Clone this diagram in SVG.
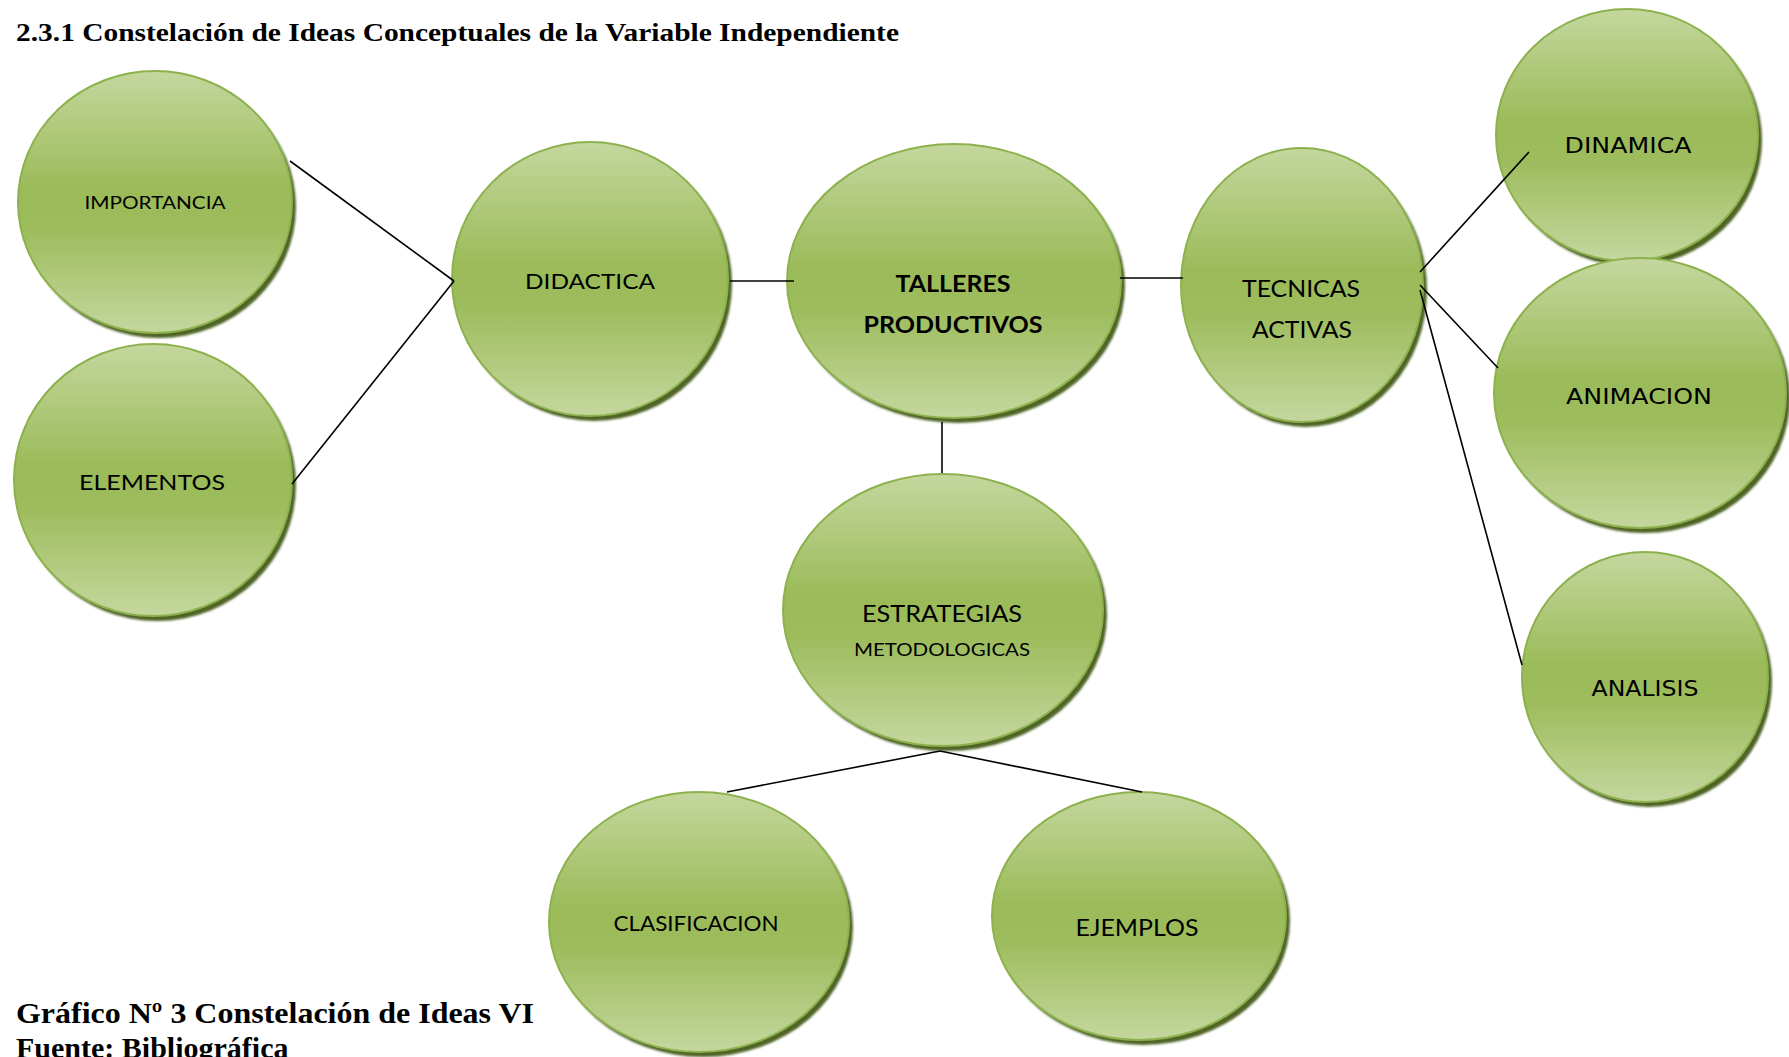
<svg xmlns="http://www.w3.org/2000/svg" width="1789" height="1057" viewBox="0 0 1789 1057">
<defs>
<linearGradient id="g" x1="0" y1="0" x2="0" y2="1">
<stop offset="0" stop-color="#c4d79e"/>
<stop offset="0.45" stop-color="#9bbb59"/>
<stop offset="0.6" stop-color="#9dbc5c"/>
<stop offset="1" stop-color="#c4d79e"/>
</linearGradient>
<filter id="blur" x="-10%" y="-10%" width="120%" height="120%"><feGaussianBlur stdDeviation="1"/></filter>
<style>
.sh{fill:#4f6528;filter:url(#blur)}
.el{fill:url(#g);stroke:#8db14d;stroke-width:2}
.t{font-family:"Lato","Open Sans",sans-serif;fill:#000;text-anchor:middle}
.w{font-family:"DejaVu Sans",sans-serif;fill:#000;text-anchor:middle}
.c line{stroke:#000;stroke-width:1.6}
.h{font-family:"Liberation Serif","Times New Roman",serif;font-weight:bold;fill:#000}
</style>
</defs>
<rect width="1789" height="1057" fill="#fff"/>
<text class="h" x="16" y="41" font-size="26" textLength="883" lengthAdjust="spacingAndGlyphs">2.3.1 Constelación de Ideas Conceptuales de la Variable Independiente</text>
<g id="importancia"><ellipse class="sh" cx="159" cy="207" rx="137" ry="131"/><ellipse class="el" cx="155" cy="202" rx="137" ry="131"/><text class="t" x="155" y="209" font-size="17" textLength="141" lengthAdjust="spacingAndGlyphs">IMPORTANCIA</text></g>
<g id="elementos"><ellipse class="sh" cx="157" cy="485" rx="139" ry="136"/><ellipse class="el" cx="153" cy="480" rx="139" ry="136"/><text class="t" x="152" y="490" font-size="22" textLength="146" lengthAdjust="spacingAndGlyphs">ELEMENTOS</text></g>
<g id="didactica"><ellipse class="sh" cx="594" cy="284" rx="138" ry="137"/><ellipse class="el" cx="590" cy="279" rx="138" ry="137"/><text class="t" x="590" y="289" font-size="22" textLength="130" lengthAdjust="spacingAndGlyphs">DIDACTICA</text></g>
<g id="talleres"><ellipse class="sh" cx="958" cy="286" rx="167" ry="137"/><ellipse class="el" cx="954" cy="281" rx="167" ry="137"/><text class="t" x="953" y="292" font-size="23" font-weight="bold" textLength="115" lengthAdjust="spacingAndGlyphs">TALLERES</text><text class="t" x="953" y="333" font-size="23" font-weight="bold" textLength="179" lengthAdjust="spacingAndGlyphs">PRODUCTIVOS</text></g>
<g id="tecnicas"><ellipse class="sh" cx="1306" cy="290" rx="121" ry="137"/><ellipse class="el" cx="1302" cy="285" rx="121" ry="137"/><text class="t" x="1301" y="297" font-size="23" textLength="118" lengthAdjust="spacingAndGlyphs">TECNICAS</text><text class="t" x="1302" y="338" font-size="23" textLength="100" lengthAdjust="spacingAndGlyphs">ACTIVAS</text></g>
<g id="dinamica"><ellipse class="sh" cx="1631" cy="140" rx="131" ry="126"/><ellipse class="el" cx="1627" cy="135" rx="131" ry="126"/><text class="w" x="1628" y="153" font-size="21" textLength="127" lengthAdjust="spacingAndGlyphs">DINAMICA</text></g>
<g id="animacion"><ellipse class="sh" cx="1644" cy="398" rx="146" ry="135"/><ellipse class="el" cx="1640" cy="393" rx="146" ry="135"/><text class="w" x="1639" y="404" font-size="21" textLength="146" lengthAdjust="spacingAndGlyphs">ANIMACION</text></g>
<g id="analisis"><ellipse class="sh" cx="1649" cy="682" rx="123" ry="125"/><ellipse class="el" cx="1645" cy="677" rx="123" ry="125"/><text class="w" x="1645" y="696" font-size="21" textLength="107" lengthAdjust="spacingAndGlyphs">ANALISIS</text></g>
<g id="estrategias"><ellipse class="sh" cx="947" cy="615" rx="160" ry="136"/><ellipse class="el" cx="943" cy="610" rx="160" ry="136"/><text class="t" x="942" y="622" font-size="23" textLength="160" lengthAdjust="spacingAndGlyphs">ESTRATEGIAS</text><text class="t" x="942" y="656" font-size="18" textLength="176" lengthAdjust="spacingAndGlyphs">METODOLOGICAS</text></g>
<g id="clasificacion"><ellipse class="sh" cx="703" cy="927" rx="150" ry="130"/><ellipse class="el" cx="699" cy="922" rx="150" ry="130"/><text class="t" x="696" y="931" font-size="21" textLength="165" lengthAdjust="spacingAndGlyphs">CLASIFICACION</text></g>
<g id="ejemplos"><ellipse class="sh" cx="1143" cy="921" rx="147" ry="124"/><ellipse class="el" cx="1139" cy="916" rx="147" ry="124"/><text class="t" x="1137" y="936" font-size="23" textLength="123" lengthAdjust="spacingAndGlyphs">EJEMPLOS</text></g>
<g class="c" id="connectors">
<line x1="290" y1="161" x2="454" y2="281"/>
<line x1="292" y1="484" x2="454" y2="281"/>
<line x1="730" y1="281" x2="794" y2="281"/>
<line x1="1120" y1="278" x2="1183" y2="278"/>
<line x1="942" y1="422" x2="942" y2="473"/>
<line x1="1420" y1="272" x2="1529" y2="152"/>
<line x1="1420" y1="285" x2="1498" y2="368"/>
<line x1="1420" y1="290" x2="1522" y2="665"/>
<line x1="940" y1="751" x2="727" y2="792"/>
<line x1="940" y1="751" x2="1142" y2="792"/>
</g>
<text class="h" x="16" y="1023" font-size="30" textLength="518" lengthAdjust="spacingAndGlyphs">Gráfico Nº 3 Constelación de Ideas VI</text>
<text class="h" x="16" y="1058" font-size="30">Fuente: Bibliográfica</text>
</svg>
